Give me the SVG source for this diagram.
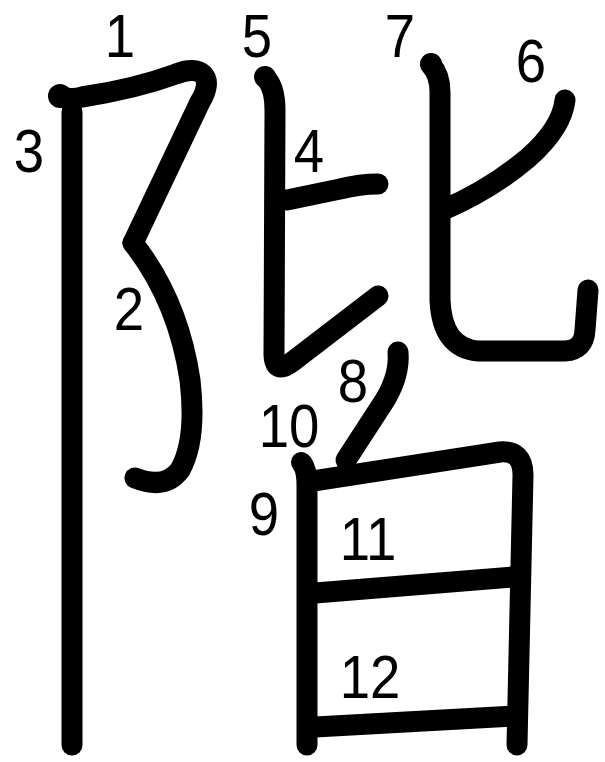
<svg xmlns="http://www.w3.org/2000/svg" width="605" height="762" viewBox="0 0 605 762">
<style>
.s{fill:none;stroke:#000;stroke-width:21;stroke-linecap:round;stroke-linejoin:round}
.b{fill:#000}
.n{font-family:"Liberation Sans",Arial,sans-serif;font-size:62px;fill:#000;text-anchor:middle}
</style>
<rect width="605" height="762" fill="#fff"/>
<g id="strokes">
<path class="s" d="M62,97 Q72,100 82,97 Q135,89 176,74 C200,64 216,76 200,102 L133,243"/>
<circle class="b" cx="60" cy="96" r="12"/>
<path class="s" d="M133,243 Q178,300 190,380 Q197,440 180,470 Q165,490 135,478"/>
<path class="s" d="M72,112 L72,745"/>
<path class="s" d="M287,200 L340,189 Q360,184 378,184"/>
<path class="s" d="M266,78 Q275,88 275,110 L274,355 Q275,375 292,362 L378,296"/>
<circle class="b" cx="265" cy="77" r="11"/>
<path class="s" d="M565,100 Q562,128 528,158 Q490,190 443,210"/>
<path class="s" d="M431,65 Q440,75 440,92 L440,300 Q442,348 478,351 L565,351 Q584,350 585,330 L588,290"/>
<circle class="b" cx="431" cy="64" r="11"/>
<path class="s" d="M398,352 Q400,375 385,400 L346,460"/>
<path class="s" d="M302,463 Q307,470 307,485 L307,745"/>
<circle class="b" cx="301" cy="462" r="10"/>
<path class="s" d="M313,481 L500,452 Q523,450 523,475 L517,745"/>
<path class="s" d="M315,593 L513,577"/>
<path class="s" d="M315,727 L515,716"/>
</g>
<g id="labels">
<text class="n" transform="translate(120,57) scale(0.88,1)">1</text>
<text class="n" transform="translate(129,330) scale(0.88,1)">2</text>
<text class="n" transform="translate(29,172) scale(0.88,1)">3</text>
<text class="n" transform="translate(309,172) scale(0.88,1)">4</text>
<text class="n" transform="translate(257,57) scale(0.88,1)">5</text>
<text class="n" transform="translate(531,82) scale(0.88,1)">6</text>
<text class="n" transform="translate(400,57) scale(0.88,1)">7</text>
<text class="n" transform="translate(353,402) scale(0.88,1)">8</text>
<text class="n" transform="translate(264,535) scale(0.88,1)">9</text>
<text class="n" transform="translate(289,447) scale(0.88,1)">10</text>
<text class="n" transform="translate(368,560) scale(0.88,1)">11</text>
<text class="n" transform="translate(370,698) scale(0.88,1)">12</text>
</g>
</svg>
